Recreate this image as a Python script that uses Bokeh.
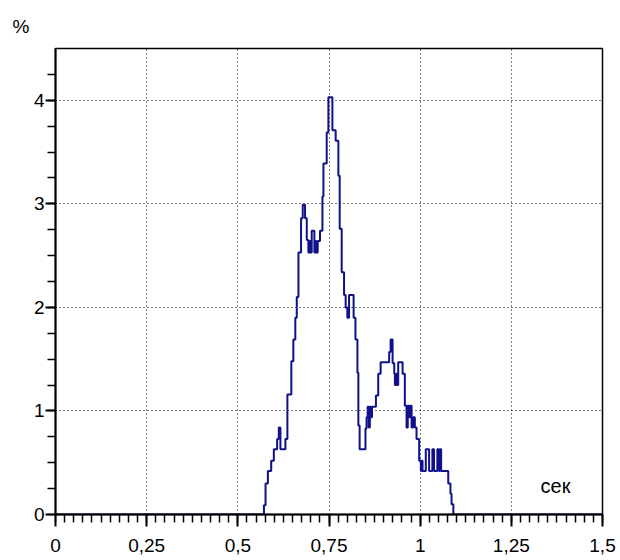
from bokeh.plotting import figure
from bokeh.models import Range1d, FixedTicker, CustomJSTickFormatter, Label
from bokeh.embed import file_html
from bokeh.resources import INLINE

# step histogram: start time of each step (s) and its level (%)
t_start = [0.0, 0.5716, 0.576, 0.5824, 0.5915, 0.5987, 0.6078, 0.6123, 0.6168, 0.6304,
           0.6359, 0.6467, 0.6522, 0.6576, 0.6616, 0.6662, 0.6734, 0.678, 0.6843, 0.689,
           0.6935, 0.697, 0.699, 0.7026, 0.7099, 0.713, 0.715, 0.719, 0.7254, 0.732,
           0.7347, 0.7437, 0.7483, 0.7593, 0.7683, 0.7757, 0.7793, 0.7848, 0.7913, 0.7957,
           0.8003, 0.805, 0.8175, 0.8225, 0.828, 0.8305, 0.834, 0.850, 0.853, 0.856,
           0.859, 0.862, 0.865, 0.868, 0.8787, 0.885, 0.8916, 0.915, 0.919, 0.9244,
           0.9289, 0.9307, 0.934, 0.936, 0.9398, 0.9518, 0.958, 0.9627, 0.966, 0.970,
           0.973, 0.9765, 0.9808, 0.9854, 0.990, 0.9973, 1.0018, 1.0036, 1.0065, 1.0154,
           1.0245, 1.0335, 1.038, 1.0471, 1.0516, 1.0545, 1.0575, 1.077, 1.083, 1.086,
           1.091, 1.5]
pct = [0.0, 0.09, 0.30, 0.42, 0.52, 0.63, 0.73, 0.84, 0.63, 0.73,
       1.16, 1.48, 1.69, 1.90, 2.10, 2.53, 2.86, 2.99, 2.86, 2.65,
       2.53, 2.64, 2.53, 2.74, 2.53, 2.64, 2.53, 2.64, 2.74, 3.07,
       3.39, 3.69, 4.03, 3.71, 3.61, 3.27, 2.76, 2.34, 2.12, 2.00,
       1.90, 2.12, 1.90, 1.69, 1.37, 0.86, 0.63, 0.83, 0.94, 1.04,
       0.84, 1.04, 0.94, 1.04, 1.15, 1.36, 1.47, 1.57, 1.69, 1.46,
       1.36, 1.25, 1.36, 1.25, 1.47, 1.36, 1.05, 0.84, 1.05, 0.94,
       1.05, 0.84, 0.94, 0.84, 0.73, 0.52, 0.42, 0.52, 0.42, 0.63,
       0.42, 0.63, 0.42, 0.63, 0.42, 0.63, 0.42, 0.30, 0.20, 0.10,
       0.0, 0.0]

x_major = [0, 0.25, 0.5, 0.75, 1, 1.25, 1.5]
x_minor = [round(i * 0.025, 3) for i in range(61)]
y_major = [0, 1, 2, 3, 4]
y_minor = [round(i * 0.25, 2) for i in range(18)]

FONT = "Liberation Sans"
FSIZE = "19px"

p = figure(width=620, height=560, output_backend="svg", toolbar_location=None,
           x_range=Range1d(0, 1.5), y_range=Range1d(0, 4.5),
           min_border_left=55, min_border_right=18, min_border_top=48, min_border_bottom=46)
p.background_fill_color = "white"
p.border_fill_color = "white"
p.outline_line_color = "black"
p.outline_line_width = 1.5

p.title.text = "%"
p.title.align = "left"
p.title.offset = -43
p.title.standoff = 24
p.title.text_font = FONT
p.title.text_font_size = FSIZE
p.title.text_font_style = "normal"
p.title.text_color = "black"

fmt = CustomJSTickFormatter(code="return tick.toString().replace('.', ',');")
for ax, maj, mnr in ((p.xaxis[0], x_major, x_minor), (p.yaxis[0], y_major, y_minor)):
    ax.ticker = FixedTicker(ticks=maj, minor_ticks=mnr)
    ax.formatter = fmt
    ax.axis_line_color = "black"
    ax.axis_line_width = 2
    ax.major_tick_line_color = "black"
    ax.major_tick_line_width = 2
    ax.minor_tick_line_color = "black"
    ax.minor_tick_line_width = 1.5
    ax.major_tick_in = 0
    ax.minor_tick_out = 8
    ax.minor_tick_in = 0
    ax.major_label_text_font = FONT
    ax.major_label_text_font_size = FSIZE
    ax.major_label_text_color = "black"
p.xaxis.major_tick_out = 12
p.xaxis.major_label_standoff = 12
p.yaxis.major_tick_out = 10
p.yaxis.major_label_standoff = 1

p.xgrid.grid_line_color = "black"
p.ygrid.grid_line_color = "black"
p.xgrid.grid_line_dash = "1 3"
p.ygrid.grid_line_dash = "1 3"
p.xgrid.grid_line_width = 1
p.ygrid.grid_line_width = 1

p.step(t_start, pct, mode="after", line_color="#10108a", line_width=2)

p.add_layout(Label(x=1.33, y=0.17, text="сек", text_font=FONT, text_font_size="20px",
                   text_color="black"))

open("out.html", "w").write(file_html(p, INLINE))
